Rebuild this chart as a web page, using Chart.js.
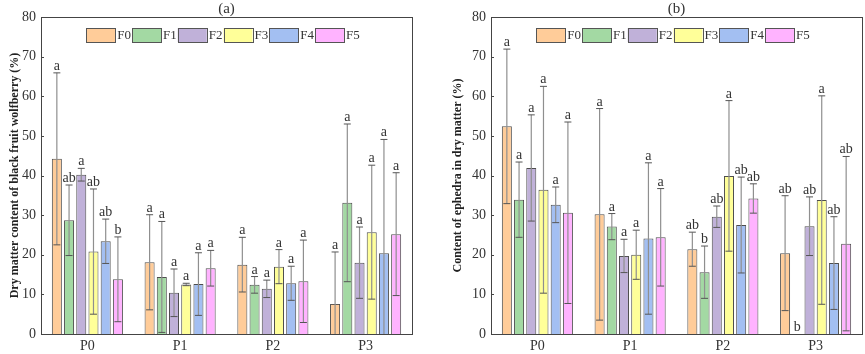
<!DOCTYPE html>
<html>
<head>
<meta charset="utf-8">
<script src="https://cdn.jsdelivr.net/npm/chart.js@4/dist/chart.umd.min.js"></script>
<style>
  html, body { margin: 0; padding: 0; background: #fff; }
  .wrap { position: absolute; top: 0; height: 354px; }
</style>
</head>
<body>
<div class="wrap" style="left:0;width:430px"><canvas id="chartA" width="430" height="354"></canvas></div>
<div class="wrap" style="left:430px;width:435px"><canvas id="chartB" width="435" height="354"></canvas></div>
<script>
const categories = ["P0", "P1", "P2", "P3"];
const seriesNames = ["F0", "F1", "F2", "F3", "F4", "F5"];
const seriesColors = ["#ffcc99", "#a3d9a3", "#c0b1d9", "#ffff99", "#a3bff2", "#ffb3ff"];
const yTicks = [0, 10, 20, 30, 40, 50, 60, 70, 80];

// (a) dry matter content of black fruit wolfberry, one row per series (F0..F5)
const dryMeans = [
    [44.2, 18.1, 17.5, 7.6],
    [28.7, 14.4, 12.4, 33.1],
    [40.2, 10.4, 11.4, 18.0],
    [20.8, 12.5, 17.0, 25.7],
    [23.4, 12.6, 12.8, 20.4],
    [13.8, 16.6, 13.3, 25.2]
];
const drySd = [
    [21.7, 12.0, 6.9, 13.1],
    [8.9, 14.0, 2.1, 19.9],
    [1.6, 6.0, 2.2, 9.0],
    [15.8, 0.3, 4.3, 16.9],
    [5.6, 7.9, 4.3, 28.7],
    [10.7, 4.5, 10.4, 15.5]
];
const dryLetters = [
    ["a", "a", "a", "a"],
    ["ab", "a", "a", "a"],
    ["a", "a", "a", "a"],
    ["ab", "a", "a", "a"],
    ["ab", "a", "a", "a"],
    ["b", "a", "a", "a"]
];

// (b) content of ephedra in dry matter
const ephMeans = [
    [52.4, 30.2, 21.4, 20.4],
    [33.9, 27.1, 15.6, 0],
    [41.9, 19.7, 29.6, 27.2],
    [36.4, 20.0, 39.9, 33.8],
    [32.6, 24.1, 27.5, 17.9],
    [30.6, 24.4, 34.2, 22.8]
];
const ephSd = [
    [19.5, 26.7, 4.3, 14.5],
    [9.5, 3.3, 6.6, 0],
    [13.4, 4.2, 2.7, 7.4],
    [26.1, 6.2, 19.0, 26.3],
    [4.5, 19.1, 12.1, 11.7],
    [22.9, 12.3, 3.7, 22.0]
];
const ephLetters = [
    ["a", "a", "ab", "ab"],
    ["a", "a", "b", "b"],
    ["a", "a", "ab", "ab"],
    ["a", "a", "a", "a"],
    ["a", "a", "ab", "ab"],
    ["a", "a", "ab", "ab"]
];

const SERIF = "'Liberation Serif', 'Times New Roman', serif";

// error bars, letters, frame, inner ticks and legend
const extrasPlugin = {
    id: "extras",
    afterDatasetsDraw(chart, args, opts) {
        const ctx = chart.ctx;
        const area = chart.chartArea;
        const y = chart.scales.y;
        ctx.save();

        chart.data.datasets.forEach((ds, i) => {
            const meta = chart.getDatasetMeta(i);
            meta.data.forEach((bar, j) => {
                const v = ds.data[j];
                const sd = opts.sd[i][j];
                const yTop = y.getPixelForValue(v + sd);
                const yLow = y.getPixelForValue(Math.max(v - sd, 0));
                if (sd > 0) {
                    ctx.strokeStyle = "#8f8f8f";
                    ctx.lineWidth = 1.2;
                    ctx.beginPath();
                    ctx.moveTo(bar.x, yTop);
                    ctx.lineTo(bar.x, yLow);
                    ctx.stroke();
                    ctx.strokeStyle = "#555";
                    ctx.lineWidth = 1;
                    ctx.beginPath();
                    ctx.moveTo(bar.x - 3.5, yTop);
                    ctx.lineTo(bar.x + 3.5, yTop);
                    if (v - sd > 0) {
                        ctx.moveTo(bar.x - 3.5, yLow);
                        ctx.lineTo(bar.x + 3.5, yLow);
                    }
                    ctx.stroke();
                }
                ctx.fillStyle = "#333";
                ctx.font = "14px " + SERIF;
                ctx.textAlign = "center";
                ctx.textBaseline = "alphabetic";
                ctx.fillText(opts.letters[i][j], bar.x, yTop - 3);
            });
        });

        // frame
        ctx.strokeStyle = "#444";
        ctx.lineWidth = 1;
        ctx.strokeRect(Math.round(area.left) + 0.5, Math.round(area.top) + 0.5,
            Math.round(area.right - area.left), Math.round(area.bottom - area.top));

        // inward ticks on the y axis
        y.ticks.forEach(t => {
            const py = Math.round(y.getPixelForValue(t.value)) + 0.5;
            ctx.beginPath();
            ctx.moveTo(area.left, py);
            ctx.lineTo(area.left + 3, py);
            ctx.stroke();
        });

        // legend row inside the plot
        ctx.font = "13px " + SERIF;
        ctx.textAlign = "left";
        ctx.textBaseline = "middle";
        const boxW = 29, boxH = 14;
        const widths = chart.data.datasets.map(d => boxW + 2 + ctx.measureText(d.label).width + 1);
        const total = widths.reduce((a, b) => a + b, 0);
        let lx = (area.left + area.right) / 2 - total / 2 - 3;
        const ly = area.top + 11;
        chart.data.datasets.forEach((d, i) => {
            ctx.fillStyle = d.backgroundColor;
            ctx.fillRect(lx, ly, boxW, boxH);
            ctx.strokeStyle = "#555";
            ctx.strokeRect(Math.round(lx) + 0.5, ly + 0.5, boxW, boxH);
            ctx.fillStyle = "#333";
            ctx.fillText(d.label, lx + boxW + 2, ly + boxH / 2 + 1);
            lx += widths[i];
        });
        ctx.restore();
    }
};

function makeChart(id, cfg) {
    const datasets = seriesNames.map((name, i) => ({
        label: name,
        data: cfg.means[i],
        backgroundColor: seriesColors[i],
        borderColor: "#4d4d4d",
        borderWidth: 1,
        categoryPercentage: 0.79,
        barPercentage: 0.82
    }));

    return new Chart(document.getElementById(id), {
        type: "bar",
        data: { labels: categories, datasets: datasets },
        plugins: [extrasPlugin],
        options: {
            responsive: false,
            animation: false,
            layout: { padding: { top: 0, right: cfg.padRight, bottom: 0, left: 0 } },
            plugins: {
                legend: { display: false },
                tooltip: { enabled: false },
                title: {
                    display: true,
                    text: cfg.title,
                    fullSize: false,
                    color: "#333",
                    font: { family: SERIF, size: 15, weight: "normal", lineHeight: 1 },
                    padding: { top: 2, bottom: 0 }
                },
                extras: { sd: cfg.sd, letters: cfg.letters }
            },
            scales: {
                x: {
                    grid: { display: false, drawTicks: false },
                    border: { display: false },
                    ticks: { color: "#333", padding: 4, font: { family: SERIF, size: 14 } },
                    afterFit(scale) { scale.height = 20; }
                },
                y: {
                    min: 0,
                    max: 80,
                    afterBuildTicks(scale) { scale.ticks = yTicks.map(v => ({ value: v })); },
                    grid: { display: false, drawTicks: false },
                    border: { display: false },
                    ticks: { color: "#333", padding: 5, font: { family: SERIF, size: 14 } },
                    title: {
                        display: true,
                        text: cfg.yTitle,
                        color: "#222",
                        font: { family: SERIF, size: 12, weight: "bold", lineHeight: 1.2 },
                        padding: { top: cfg.titlePad, bottom: 0 }
                    },
                    afterFit(scale) { scale.width = cfg.axisWidth; }
                }
            }
        }
    });
}

makeChart("chartA", {
    title: "(a)",
    yTitle: "Dry matter content of black fruit wolfberry (%)",
    means: dryMeans,
    sd: drySd,
    letters: dryLetters,
    axisWidth: 41,
    titlePad: 8,
    padRight: 18
});

makeChart("chartB", {
    title: "(b)",
    yTitle: "Content of ephedra in dry matter (%)",
    means: ephMeans,
    sd: ephSd,
    letters: ephLetters,
    axisWidth: 61,
    titlePad: 21,
    padRight: 3
});
</script>
</body>
</html>
